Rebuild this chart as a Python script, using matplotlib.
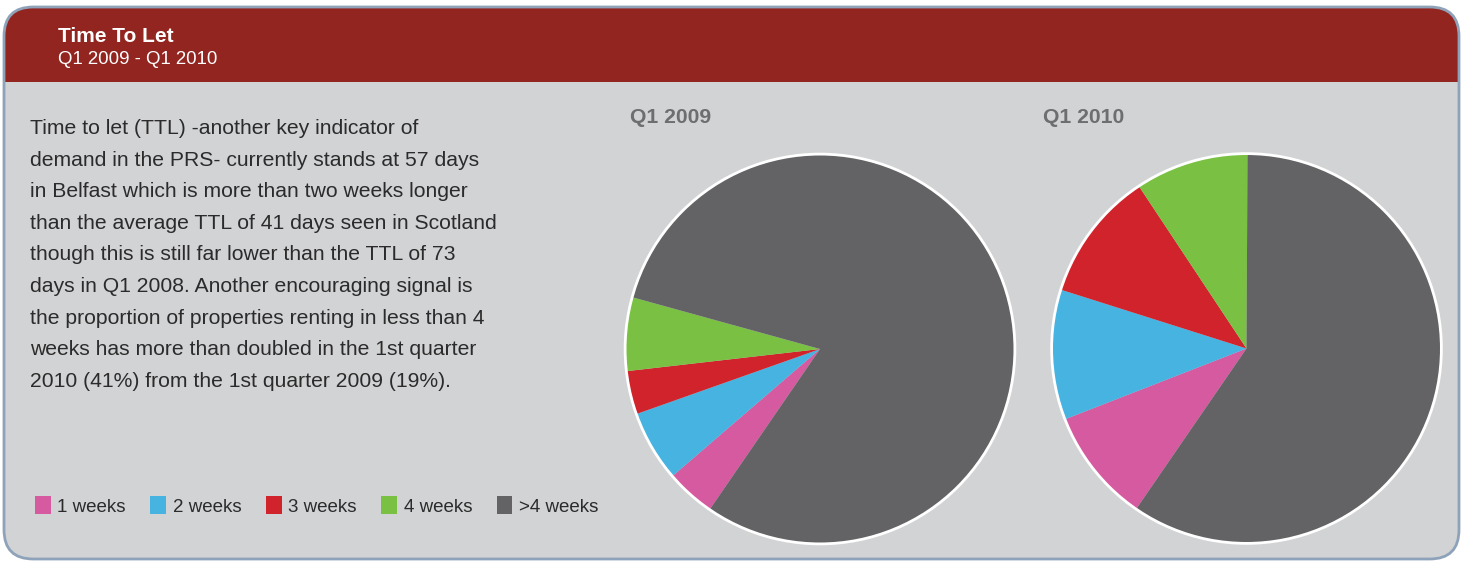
import matplotlib
matplotlib.use('Agg')
import matplotlib.pyplot as plt
from matplotlib.patches import FancyBboxPatch, Patch, Rectangle

plt.rcParams['font.family'] = ['Liberation Sans', 'DejaVu Sans']

categories = ['1 weeks', '2 weeks', '3 weeks', '4 weeks', '>4 weeks']
q1_2009 = [4.1, 5.9, 3.6, 6.1, 80.3]
q1_2010 = [9.5, 10.8, 10.8, 9.4, 59.5]
pie_titles = ['Q1 2009', 'Q1 2010']

colors = ['#D65AA0', '#47B3E1', '#D0232B', '#7AC143', '#636366']

body = ("Time to let (TTL) -another key indicator of\n"
        "demand in the PRS- currently stands at 57 days\n"
        "in Belfast which is more than two weeks longer\n"
        "than the average TTL of 41 days seen in Scotland\n"
        "though this is still far lower than the TTL of 73\n"
        "days in Q1 2008. Another encouraging signal is\n"
        "the proportion of properties renting in less than 4\n"
        "weeks has more than doubled in the 1st quarter\n"
        "2010 (41%) from the 1st quarter 2009 (19%).")

W, H = 1463, 563
fig = plt.figure(figsize=(W / 100, H / 100), dpi=100)
fig.patch.set_facecolor('white')

# rounded panel: red header band on top of a grey body
panel = FancyBboxPatch((4 / W, 4 / H), 1455 / W, 552 / H,
                       boxstyle='round,pad=0,rounding_size=0.02',
                       transform=fig.transFigure, facecolor='#922520',
                       edgecolor='none', mutation_aspect=W / H, zorder=-3)
fig.patches.append(panel)
body_bg = Rectangle((0, 0), 1, (H - 82) / H, transform=fig.transFigure,
                    facecolor='#D2D3D5', edgecolor='none', zorder=-2)
body_bg.set_clip_path(panel)
fig.patches.append(body_bg)
fig.patches.append(FancyBboxPatch((4 / W, 4 / H), 1455 / W, 552 / H,
                                  boxstyle='round,pad=0,rounding_size=0.02',
                                  transform=fig.transFigure, facecolor='none',
                                  edgecolor='#8EA3BA', linewidth=2,
                                  mutation_aspect=W / H, zorder=-1))

fig.text(58 / W, 1 - 36 / H, 'Time To Let', color='white', fontsize=15,
         fontweight='bold', va='center', ha='left')
fig.text(58 / W, 1 - 59 / H, 'Q1 2009 - Q1 2010', color='white', fontsize=13.4,
         va='center', ha='left')

fig.text(30 / W, 1 - 119 / H, body, color='#2B2B2B', fontsize=15.2,
         va='top', ha='left', linespacing=1.84)

# pies
centers = [(820, 349), (1246.5, 348.5)]
title_x = [630, 1043]
r = 195
for data, (cx, cy), title, tx in zip([q1_2009, q1_2010], centers, pie_titles, title_x):
    ax = fig.add_axes([(cx - r - 3) / W, (H - cy - r - 3) / H,
                       (2 * r + 6) / W, (2 * r + 6) / H])
    ax.pie(data, colors=colors, startangle=235.5, counterclock=False,
           wedgeprops=dict(linewidth=0))
    circle = plt.Circle((0, 0), 1.0, facecolor='none', edgecolor='white',
                        linewidth=2)
    ax.add_patch(circle)
    ax.set_xlim(-1.016, 1.016)
    ax.set_ylim(-1.016, 1.016)
    ax.set_aspect('equal')
    ax.axis('off')
    fig.text(tx / W, 1 - 117 / H, title, color='#6D6E70', fontsize=15.2,
             fontweight='bold', va='center', ha='left')

handles = [Patch(facecolor=c, edgecolor='none') for c in colors]
fig.legend(handles, categories, ncol=5, loc='center left',
           bbox_to_anchor=(18 / W, 1 - 506 / H), frameon=False,
           fontsize=13.5, handlelength=0.85, handleheight=1.1,
           handletextpad=0.35, columnspacing=1.3, labelcolor='#2B2B2B')

fig.savefig('out.png', dpi=100)
plt.close()
